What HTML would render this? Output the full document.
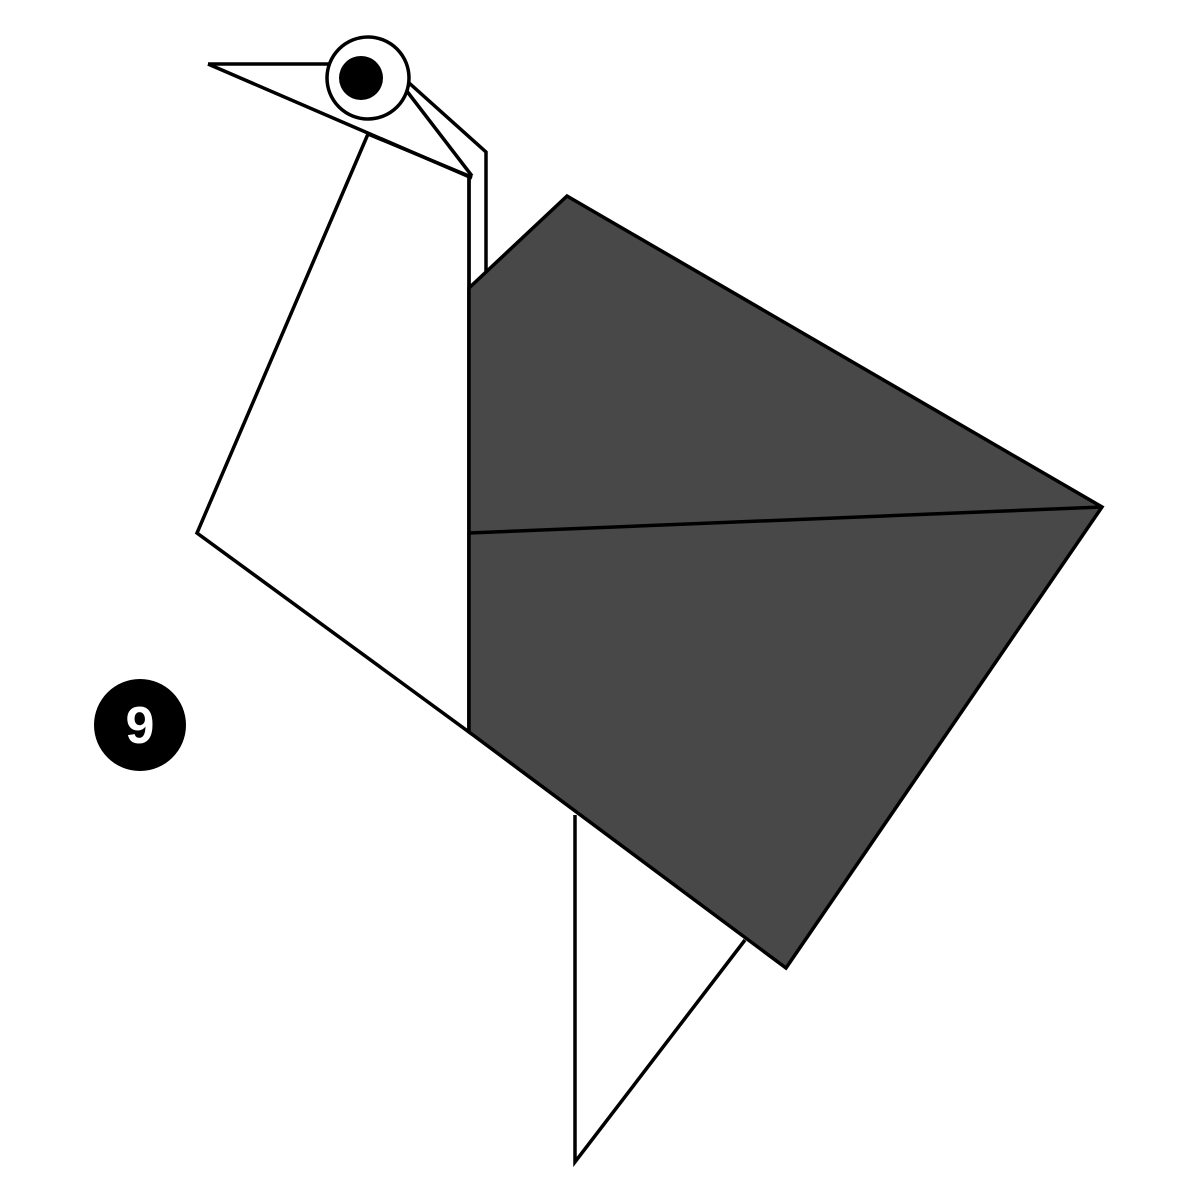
<!DOCTYPE html>
<html><head><meta charset="utf-8"><style>html,body{margin:0;background:#fff}svg{display:block}</style></head>
<body>
<svg width="1200" height="1200" viewBox="0 0 1200 1200">
<g fill="none" stroke="#000" stroke-width="3.5" stroke-linejoin="miter">
<polyline points="575,815 575,1162 745,940" fill="#fff"/>
<polygon points="368,134 197,533 469,732 469,176" fill="#fff"/>
<polyline points="408,82 486,152 486,272"/>
<line x1="406" y1="90" x2="472" y2="176"/>
<line x1="208" y1="64" x2="330" y2="64"/>
<line x1="208" y1="64" x2="472" y2="178"/>
<line x1="469" y1="176" x2="469" y2="732"/>
<polygon points="469,288 567,196 1102,507 786,968 469,732" fill="#484848"/>
<line x1="469" y1="533" x2="1102" y2="507"/>
<circle cx="368" cy="78" r="41" fill="#fff"/>
</g>
<circle cx="361" cy="78" r="22" fill="#000"/>
<circle cx="140" cy="725" r="46" fill="#000"/>
<text x="140" y="743" text-anchor="middle" font-family="Liberation Sans, sans-serif" font-weight="bold" font-size="52" fill="#fff">9</text>
</svg>
</body></html>
